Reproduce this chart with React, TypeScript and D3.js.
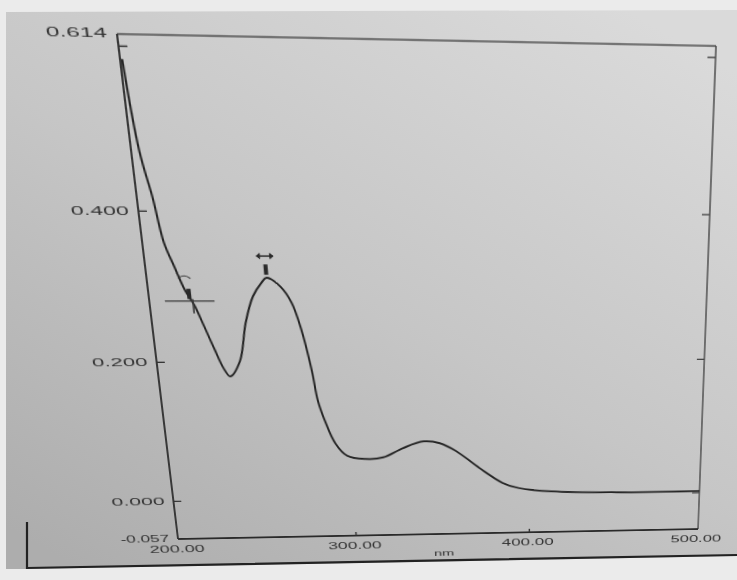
import React from 'react';
import * as d3 from 'd3';

// spectrum (nm, absorbance)
const wavelengths = [
  201, 204, 208, 211, 215, 219, 223, 227, 231, 235, 238, 244, 249, 254, 259,
  262, 269, 274, 278, 282, 284, 287, 292, 298, 308, 318, 329, 341, 350, 359,
  372, 385, 394, 413, 451, 500,
];
const absorbance = [
  0.585, 0.476, 0.416, 0.36, 0.328, 0.298, 0.278, 0.249, 0.219, 0.191, 0.18,
  0.201, 0.254, 0.289, 0.307, 0.314, 0.302, 0.281, 0.245, 0.187, 0.145, 0.116,
  0.082, 0.064, 0.059, 0.061, 0.074, 0.084, 0.081, 0.069, 0.043, 0.02, 0.012,
  0.006, 0.003, 0.003,
];

const yTickValues = [0.0, 0.2, 0.4, 0.6];
const yLabelValues = [0.614, 0.4, 0.2, 0.0, -0.057];
const yLabelTexts = ['0.614', '0.400', '0.200', '0.000', '-0.057'];
const xTickValues = [300, 400];
const xLabelValues = [200, 300, 400, 500];
const xLabelTexts = ['200.00', '300.00', '400.00', '500.00'];
const peakMarks = [262];
const cursorMarks = [222];

const W = 737;
const H = 580;
const PL = 130;
const PT = 40;
const PW = 560;
const PH = 490;

// where the plot box corners sit in the photo (TL, TR, BR, BL)
const photoQuad: [number, number][] = [
  [117, 34],
  [716, 46],
  [698, 529],
  [178, 539],
];

function homography(src: [number, number][], dst: [number, number][]) {
  const A: number[][] = [];
  for (let i = 0; i < 4; i++) {
    const [x, y] = src[i];
    const [X, Y] = dst[i];
    A.push([x, y, 1, 0, 0, 0, -X * x, -X * y, X]);
    A.push([0, 0, 0, x, y, 1, -Y * x, -Y * y, Y]);
  }
  // gaussian elimination
  for (let c = 0; c < 8; c++) {
    let p = c;
    for (let r = c + 1; r < 8; r++) if (Math.abs(A[r][c]) > Math.abs(A[p][c])) p = r;
    [A[c], A[p]] = [A[p], A[c]];
    for (let r = 0; r < 8; r++) {
      if (r === c) continue;
      const f = A[r][c] / A[c][c];
      for (let k = c; k < 9; k++) A[r][k] -= f * A[c][k];
    }
  }
  const h = A.map((row, i) => row[8] / row[i]);
  return `matrix3d(${h[0]},${h[3]},0,${h[6]},${h[1]},${h[4]},0,${h[7]},0,0,1,0,${h[2]},${h[5]},0,1)`;
}

const warp = homography(
  [
    [PL, PT],
    [PL + PW, PT],
    [PL + PW, PT + PH],
    [PL, PT + PH],
  ],
  photoQuad
);

const font = { fontFamily: 'Liberation Sans, Arial, sans-serif', fontSize: 10, fill: '#333' };

export default function App() {
  const x = d3.scaleLinear().domain([200, 500]).range([PL, PL + PW]);
  const y = d3.scaleLinear().domain([-0.057, 0.614]).range([PT + PH, PT]);
  const pts = wavelengths.map((w, i) => [w, absorbance[i]] as [number, number]);
  const line = d3
    .line<[number, number]>()
    .x((d) => x(d[0]))
    .y((d) => y(d[1]))
    .curve(d3.curveCatmullRom.alpha(0.5));
  const absAt = (w: number) => {
    const i = d3.bisectLeft(wavelengths, w);
    const w0 = wavelengths[i - 1], w1 = wavelengths[i];
    const t = (w - w0) / (w1 - w0);
    return absorbance[i - 1] + t * (absorbance[i] - absorbance[i - 1]);
  };

  return (
    <div
      style={{
        position: 'absolute',
        left: 0,
        top: 0,
        width: W,
        height: H,
        overflow: 'hidden',
        background: '#ebebeb',
      }}
    >
      {/* paper in the photo */}
      <svg width={W} height={H} style={{ position: 'absolute', left: 0, top: 0 }}>
        <defs>
          <linearGradient id="paper" x1="0.85" y1="0" x2="0.1" y2="1">
            <stop offset="0" stopColor="#dadada" />
            <stop offset="0.5" stopColor="#c6c6c6" />
            <stop offset="1" stopColor="#adadad" />
          </linearGradient>
        </defs>
        <polygon points="6,12 737,10 737,556 27,569 6,569" fill="url(#paper)" />
        <polyline points="27,522 27,568 737,555" fill="none" stroke="#222" strokeWidth={2.2} />
      </svg>

      <svg
        width={W}
        height={H}
        style={{ position: 'absolute', left: 0, top: 0, transformOrigin: '0 0', transform: warp }}
      >
        {/* box */}
        <line x1={PL} x2={PL + PW} y1={PT} y2={PT} stroke="#555" strokeWidth={1.3} />
        <line x1={PL + PW} x2={PL + PW} y1={PT} y2={PT + PH} stroke="#444" strokeWidth={1.4} />
        <line x1={PL} x2={PL} y1={PT} y2={PT + PH} stroke="#2a2a2a" strokeWidth={1.8} />
        <line x1={PL} x2={PL + PW} y1={PT + PH} y2={PT + PH} stroke="#2a2a2a" strokeWidth={1.8} />

        {yTickValues.map((v) => (
          <g key={v}>
            <line x1={PL} x2={PL + 8} y1={y(v)} y2={y(v)} stroke="#333" strokeWidth={1.3} />
            <line x1={PL + PW - 8} x2={PL + PW} y1={y(v)} y2={y(v)} stroke="#444" strokeWidth={1.3} />
          </g>
        ))}
        {xTickValues.map((v) => (
          <line key={v} x1={x(v)} x2={x(v)} y1={PT + PH} y2={PT + PH - 4} stroke="#333" strokeWidth={1.5} />
        ))}

        {yLabelValues.map((v, i) => (
          <text
            key={v}
            x={PL - 9}
            y={y(v)}
            dy="0.35em"
            textAnchor="end"
            textLength={yLabelTexts[i].length > 5 ? 50 : 54}
            lengthAdjust="spacingAndGlyphs"
            {...font}
          >
            {yLabelTexts[i]}
          </text>
        ))}
        {xLabelValues.map((v, i) => (
          <text
            key={v}
            x={x(v) - 2}
            y={PT + PH + 15}
            textAnchor="middle"
            textLength={57}
            lengthAdjust="spacingAndGlyphs"
            {...font}
          >
            {xLabelTexts[i]}
          </text>
        ))}
        <text
          x={x(350)}
          y={PT + PH + 25}
          textAnchor="middle"
          textLength={22}
          lengthAdjust="spacingAndGlyphs"
          {...font}
          fontSize={9}
        >
          nm
        </text>

        {/* spectrum */}
        <path d={line(pts) ?? ''} fill="none" stroke="#242424" strokeWidth={2} />

        {/* peak pick markers */}
        {peakMarks.map((w) => {
          const px = x(w);
          const py = y(absAt(w));
          return (
            <g key={w} stroke="#2a2a2a">
              <rect x={px - 2} y={py - 13} width={4} height={10} fill="#2a2a2a" stroke="none" />
              <line x1={px - 8} x2={px + 8} y1={py - 21} y2={py - 21} strokeWidth={1.4} />
              <path d={`M${px - 8},${py - 21}l3,-2.5v5z M${px + 8},${py - 21}l-3,-2.5v5z`} fill="#2a2a2a" strokeWidth={1} />
            </g>
          );
        })}
        {cursorMarks.map((w) => {
          const px = x(w);
          const py = y(absAt(w));
          return (
            <g key={w} stroke="#3a3a3a" fill="none">
              <line x1={px - 26} x2={px + 22} y1={py} y2={py} strokeWidth={1.2} />
              <line x1={px + 1} x2={px + 1} y1={py - 2} y2={py + 12} strokeWidth={1.6} />
              <rect x={px - 4} y={py - 12} width={4} height={10} fill="#2a2a2a" stroke="none" />
              <path d={`M${px - 11},${py - 22} q6,-5 12,0`} strokeWidth={1.1} />
            </g>
          );
        })}
      </svg>
    </div>
  );
}
